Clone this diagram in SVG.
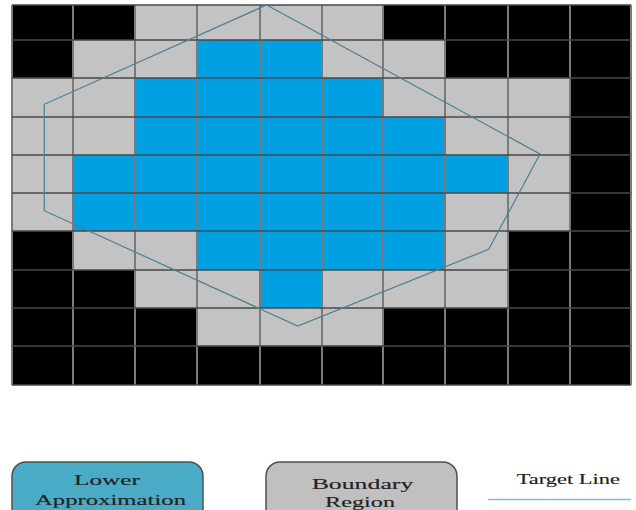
<svg xmlns="http://www.w3.org/2000/svg" width="636" height="510" viewBox="0 0 636 510">
<style>
.g{fill:#c3c3c3}
.l{fill:#00a0e3}
.vl{stroke:#7a7a7a;stroke-width:2;fill:none}
.hl{stroke:#4a4a4a;stroke-width:1.5;fill:none}
.txt{font-family:"Liberation Serif","Times New Roman",serif;font-size:14.5px;fill:#222222;stroke:#222222;stroke-width:0.15}
.box{stroke:#505050;stroke-width:1.5}
</style>
<rect width="636" height="510" fill="#ffffff"/>
<g id="grid">
<rect x="12" y="5" width="619" height="380" fill="#000000"/>
<rect class="g" x="135" y="5" width="248" height="35"/>
<rect class="g" x="73" y="40" width="124" height="38"/>
<rect class="l" x="197" y="40" width="125" height="38"/>
<rect class="g" x="322" y="40" width="123" height="38"/>
<rect class="g" x="12" y="78" width="123" height="39"/>
<rect class="l" x="135" y="78" width="248" height="39"/>
<rect class="g" x="383" y="78" width="187" height="39"/>
<rect class="g" x="12" y="117" width="123" height="38"/>
<rect class="l" x="135" y="117" width="310" height="38"/>
<rect class="g" x="445" y="117" width="125" height="38"/>
<rect class="g" x="12" y="155" width="61" height="38"/>
<rect class="l" x="73" y="155" width="435" height="38"/>
<rect class="g" x="508" y="155" width="62" height="38"/>
<rect class="g" x="12" y="193" width="61" height="38"/>
<rect class="l" x="73" y="193" width="372" height="38"/>
<rect class="g" x="445" y="193" width="125" height="38"/>
<rect class="g" x="73" y="231" width="124" height="39"/>
<rect class="l" x="197" y="231" width="248" height="39"/>
<rect class="g" x="445" y="231" width="63" height="39"/>
<rect class="g" x="135" y="270" width="125" height="38"/>
<rect class="l" x="260" y="270" width="62" height="38"/>
<rect class="g" x="322" y="270" width="186" height="38"/>
<rect class="g" x="197" y="308" width="186" height="38"/>
<path class="vl" d="M12 5V385M73 5V385M135 5V385M197 5V385M260 5V385M322 5V385M383 5V385M445 5V385M508 5V385M570 5V385M631 5V385"/>
<path class="hl" d="M12 5H631M12 40H631M12 78H631M12 117H631M12 155H631M12 193H631M12 231H631M12 270H631M12 308H631M12 346H631M12 385H631"/>
</g>
<g id="connectors">
<polygon id="target" points="266.7,5 540,154 488.7,249.3 297.7,326 44.3,210.7 44.3,104.3" fill="none" stroke="#4e7f8f" stroke-width="1.2"/>
</g>
<g id="legend-lower">
<rect class="box" x="12" y="462" width="191" height="70" rx="14" fill="#4aabc6"/>
<text class="txt" x="74" y="485" textLength="66" lengthAdjust="spacingAndGlyphs">Lower</text>
<text class="txt" x="35" y="505" textLength="151" lengthAdjust="spacingAndGlyphs">Approximation</text>
</g>
<g id="legend-boundary">
<rect class="box" x="266" y="462" width="191" height="70" rx="14" fill="#c0c0c0"/>
<text class="txt" x="311.7" y="489" textLength="101.6" lengthAdjust="spacingAndGlyphs">Boundary</text>
<text class="txt" x="325" y="506.5" textLength="70" lengthAdjust="spacingAndGlyphs">Region</text>
</g>
<g id="legend-target">
<text class="txt" x="516.7" y="484" textLength="103.3" lengthAdjust="spacingAndGlyphs">Target Line</text>
<line x1="488" y1="499.5" x2="631" y2="499.5" stroke="#8ab8e0" stroke-width="1.5"/>
</g>
</svg>
